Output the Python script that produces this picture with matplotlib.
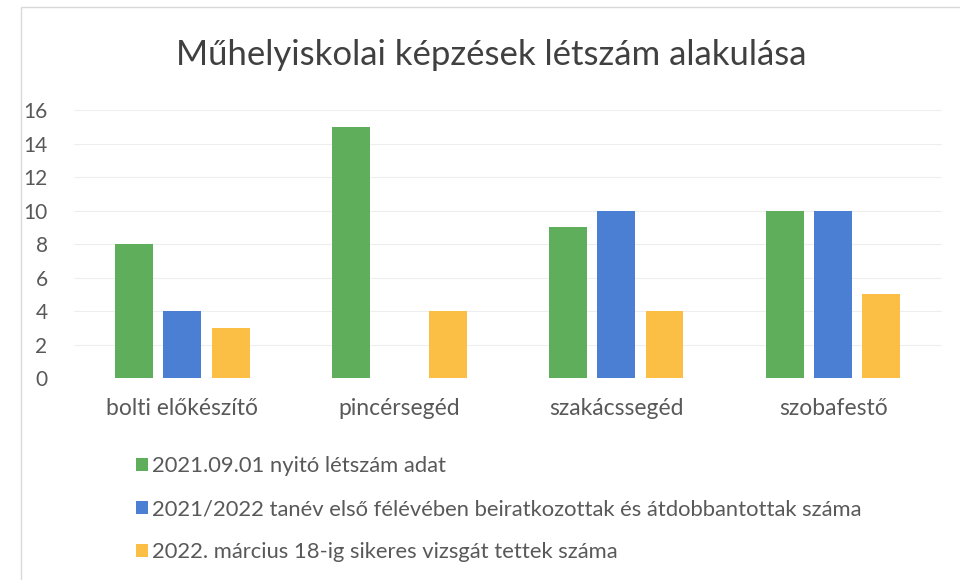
import numpy as np
import matplotlib.pyplot as plt
from matplotlib.patches import Rectangle

categories = ["bolti előkészítő", "pincérsegéd", "szakácssegéd", "szobafestő"]
series_names = [
    "2021.09.01 nyitó létszám adat",
    "2021/2022 tanév első félévében beiratkozottak és átdobbantottak száma",
    "2022. március 18-ig sikeres vizsgát tettek száma",
]
nyito = [8, 15, 9, 10]
beiratkozott = [4, 0, 10, 10]
vizsga = [3, 4, 4, 5]
colors = ["#5fae5c", "#4a7fd4", "#fbbf45"]

plt.rcParams['font.family'] = ['Lato', 'DejaVu Sans']
text_col = "#595959"

fig = plt.figure(figsize=(9.6, 5.8), dpi=100)
ax = fig.add_axes([0.077, 0.348, 0.904, 0.462])

x = np.arange(len(categories))
w = 0.175
step = 0.222
for i, (vals, name) in enumerate(zip([nyito, beiratkozott, vizsga], series_names)):
    ax.bar(x + (i - 1) * step, vals, width=w, color=colors[i], label=name, zorder=3)

ax.set_xlim(-0.5, len(categories) - 0.5)
ax.set_ylim(0, 16)
ax.set_yticks(range(0, 17, 2))
ax.grid(axis='y', color="#eeeeee", linewidth=0.8, zorder=0)
for s in ax.spines.values():
    s.set_visible(False)
ax.tick_params(axis='y', length=0, labelsize=15, colors=text_col, pad=19)
ax.tick_params(axis='x', length=0, labelsize=16.5, colors=text_col, pad=14)
ax.set_xticks(x)
ax.set_xticklabels(categories)

fig.text(0.512, 0.905, "Műhelyiskolai képzések létszám alakulása", ha='center', va='center',
         fontsize=25, color="#404040")

handles, labels = ax.get_legend_handles_labels()
fig.legend(handles, labels, loc='upper left', bbox_to_anchor=(0.13, 0.232), frameon=False,
           fontsize=15.8, labelcolor=text_col, handlelength=0.55, handleheight=0.55,
           handletextpad=0.2, labelspacing=1.05, borderpad=0)

fig.patches.append(Rectangle((0.022, -0.01), 1.0, 0.998, transform=fig.transFigure,
                             fill=False, edgecolor="#d9d9d9", linewidth=1))

fig.savefig("out.png", dpi=100)
